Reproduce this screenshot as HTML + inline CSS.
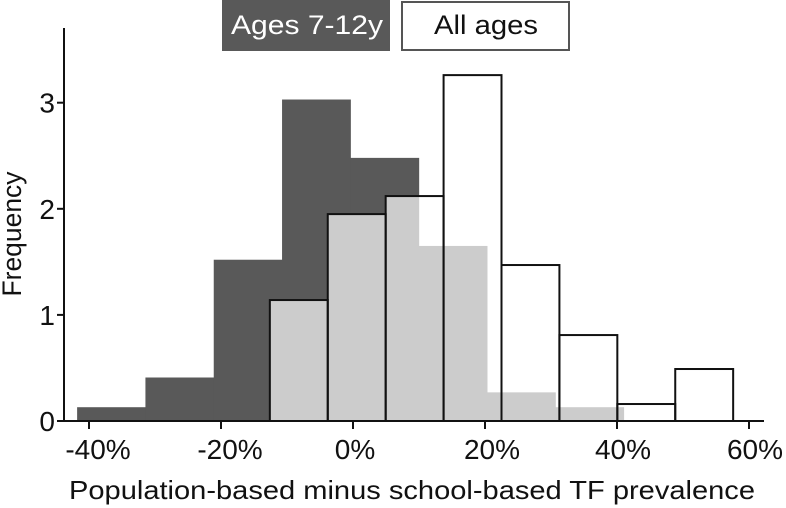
<!DOCTYPE html>
<html><head><meta charset="utf-8"><style>
html,body{margin:0;padding:0;background:#fff;}
svg{display:block;font-family:"Liberation Sans",Arial,sans-serif;}
</style></head><body>
<svg id="chart" width="786" height="508" viewBox="0 0 786 508" xmlns="http://www.w3.org/2000/svg">
<rect x="222" y="0" width="168" height="51" fill="#595959"/>
<text x="307" y="34" font-size="27" fill="#fff" text-anchor="middle" textLength="152" lengthAdjust="spacingAndGlyphs">Ages 7-12y</text>
<rect x="402" y="2" width="167" height="48" fill="#fff" stroke="#555" stroke-width="2"/>
<text x="486" y="34" font-size="27" fill="#111" text-anchor="middle" textLength="104" lengthAdjust="spacingAndGlyphs">All ages</text>
<g id="plot"></g>
<text transform="translate(21,234) rotate(-90)" font-size="27" fill="#111" text-anchor="middle" textLength="125" lengthAdjust="spacingAndGlyphs">Frequency</text>
<text x="412" y="499" font-size="26" fill="#111" text-anchor="middle" textLength="686" lengthAdjust="spacingAndGlyphs">Population-based minus school-based TF prevalence</text>
</svg>
<script>
const darkCounts = [0.13, 0.41, 1.52, 3.03, 2.48, 1.65, 0.27, 0.13];
const darkStart = -41.8;
const darkWidth = 10.35;
const allCounts = [1.14, 1.95, 2.12, 3.26, 1.47, 0.81, 0.16, 0.49];
const allStart = -12.6;
const allWidth = 8.775;
const xTicks = [-40, -20, 0, 20, 40, 60];
const xTickLabels = ["-40%", "-20%", "0%", "20%", "40%", "60%"];
const yTicks = [0, 1, 2, 3];

const NS = "http://www.w3.org/2000/svg";
const X = v => 353 + v * 6.6;
const Y = f => 421 - f * 106.1;
const g = document.getElementById('plot');
function mk(tag, attrs, parent) {
  const e = document.createElementNS(NS, tag);
  for (const k in attrs) e.setAttribute(k, attrs[k]);
  (parent || g).appendChild(e);
  return e;
}
const defs = mk('defs', {});
const clip = mk('clipPath', {id: 'allclip'}, defs);
allCounts.forEach((c, i) => {
  const x0 = X(allStart + i * allWidth), x1 = X(allStart + (i + 1) * allWidth);
  mk('rect', {x: x0, y: Y(c), width: x1 - x0, height: Y(0) - Y(c)}, clip);
});
darkCounts.forEach((c, i) => {
  const x0 = X(darkStart + i * darkWidth), x1 = X(darkStart + (i + 1) * darkWidth);
  const r = mk('rect', {x: x0, y: Y(c), width: x1 - x0 + 0.5, height: Y(0) - Y(c), fill: '#595959'});
  
  
});
allCounts.forEach((c, i) => {
  const x0 = X(allStart + i * allWidth), x1 = X(allStart + (i + 1) * allWidth);
  const r = mk('rect', {x: x0, y: Y(c), width: x1 - x0, height: Y(0) - Y(c), fill: '#fff'});
  
  
});
const og = mk('g', {'clip-path': 'url(#allclip)'});


darkCounts.forEach((c, i) => {
  const x0 = X(darkStart + i * darkWidth), x1 = X(darkStart + (i + 1) * darkWidth);
  mk('rect', {x: x0, y: Y(c), width: x1 - x0 + 0.5, height: Y(0) - Y(c), fill: '#cccccc'}, og);
});
allCounts.forEach((c, i) => {
  const x0 = X(allStart + i * allWidth), x1 = X(allStart + (i + 1) * allWidth);
  const r = mk('rect', {x: x0, y: Y(c), width: x1 - x0, height: Y(0) - Y(c), fill: 'none', stroke: '#111', 'stroke-width': 2});
  
  
});
const ya = mk('line', {x1: 64, y1: 28, x2: 64, y2: 422, stroke: '#111', 'stroke-width': 2});


const xa = mk('line', {x1: 63, y1: 421, x2: 764, y2: 421, stroke: '#111', 'stroke-width': 2});


yTicks.forEach(t => {
  mk('line', {x1: 57, y1: Y(t), x2: 64, y2: Y(t), stroke: '#111', 'stroke-width': 2});
  const tx = mk('text', {x: 55, y: Y(t) + 10, 'font-size': 28, 'text-anchor': 'end', fill: '#111'});
  tx.textContent = String(t);
  
  
});
const labelShift = [9, 9, 2, 7, 6, 6];
xTicks.forEach((t, i) => {
  mk('line', {x1: X(t), y1: 421, x2: X(t), y2: 429, stroke: '#111', 'stroke-width': 2});
  const tx = mk('text', {x: X(t) + labelShift[i], y: 459, 'font-size': 28, 'text-anchor': 'middle', fill: '#111'});
  tx.textContent = xTickLabels[i];
  
  
});
</script>
</body></html>
